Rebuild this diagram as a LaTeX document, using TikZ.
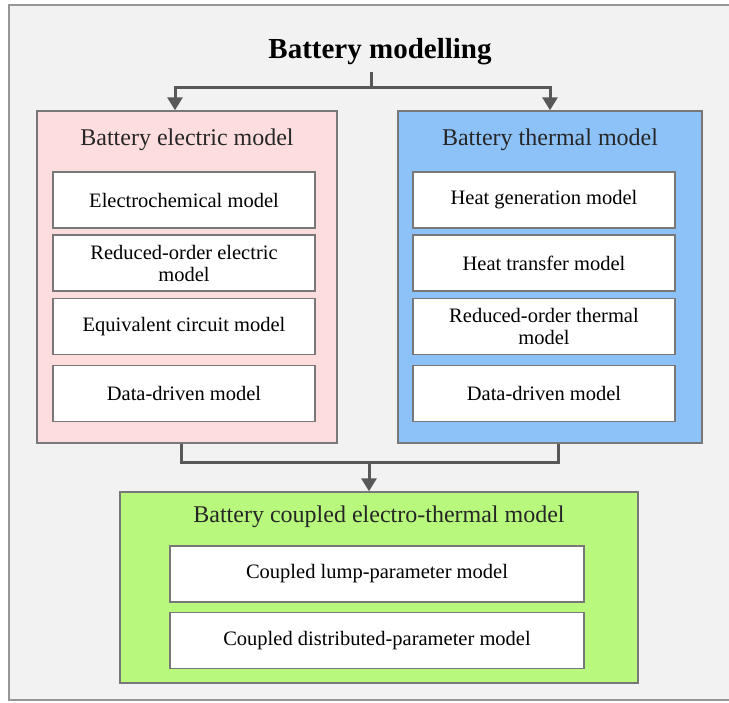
\documentclass[tikz,border=0pt]{standalone}
\usepackage{fontspec}
\setmainfont{Liberation Serif}
\usepackage{tikz}
\usetikzlibrary{arrows.meta,positioning}

\definecolor{framefill}{RGB}{242,242,242}
\definecolor{framedraw}{RGB}{150,150,150}
\definecolor{elecfill}{RGB}{253,221,221}
\definecolor{thermfill}{RGB}{140,194,248}
\definecolor{coupfill}{RGB}{184,248,124}
\definecolor{boxdraw}{RGB}{120,120,120}
\definecolor{linkcol}{RGB}{88,88,88}

\begin{document}
\begin{tikzpicture}[x=1pt, y=-1pt,
  groupbox/.style={draw=boxdraw, line width=1.4pt, minimum width=#1, inner sep=0pt},
  subbox/.style={draw=boxdraw, line width=1.2pt, fill=white, minimum height=56pt, inner sep=0pt, align=center, font=\fontsize{20.5}{22}\selectfont},
  head/.style={font=\fontsize{24}{28}\selectfont, text=black!85},
  link/.style={draw=linkcol, line width=3pt},
  linkarr/.style={link, -{Triangle[length=13pt,width=15pt]}}]
\useasboundingbox (0,0) rectangle (729,703);
\clip (0,0) rectangle (729,703);
\draw[fill=framefill, draw=framedraw, line width=1.2pt] (9,5) rectangle (760,700);

\node[font=\fontsize{29}{32}\selectfont\bfseries] (title) at (380,52) {Battery modelling};

% electric model
\node[groupbox=300pt, fill=elecfill, minimum height=332pt] (elec) at (187,277) {};
\node[head] (elechead) at (187,140) {Battery electric model};
\foreach \y/\n/\t in {200/e1/Electrochemical model, 263/e2/{Reduced-order electric\\model}, 326.5/e3/Equivalent circuit model, 393.5/e4/Data-driven model} {
  \node[subbox, minimum width=262pt] (\n) at (184,\y) {\t}; }

% thermal model
\node[groupbox=304pt, fill=thermfill, minimum height=332pt] (therm) at (550,277) {};
\node[head] (thermhead) at (550,140) {Battery thermal model};
\foreach \y/\n/\t in {200/t1/Heat generation model, 263/t2/Heat transfer model, 326.5/t3/{Reduced-order thermal\\model}, 393.5/t4/Data-driven model} {
  \node[subbox, minimum width=262pt] (\n) at (544,\y) {\t}; }

% coupled model
\node[groupbox=518pt, fill=coupfill, minimum height=191pt] (coup) at (379,587.5) {};
\node[head] (couphead) at (379,517) {Battery coupled electro-thermal model};
\node[subbox, minimum width=414pt] (c1) at (377,574) {Coupled lump-parameter model};
\node[subbox, minimum width=414pt] (c2) at (377,640.5) {Coupled distributed-parameter model};

% connectors
\coordinate (split) at (371,88);
\coordinate (merge) at (369,463);
\draw[link] (371,72) -- (split);
\draw[linkarr] (split) -| ([xshift=-12pt]elec.north);
\draw[linkarr] (split) -| (therm.north);
\draw[link] ([xshift=-6pt]elec.south) |- (merge);
\draw[link] ([xshift=8pt]therm.south) |- (merge);
\draw[linkarr] (merge) -- (merge |- coup.north);
\end{tikzpicture}
\end{document}
